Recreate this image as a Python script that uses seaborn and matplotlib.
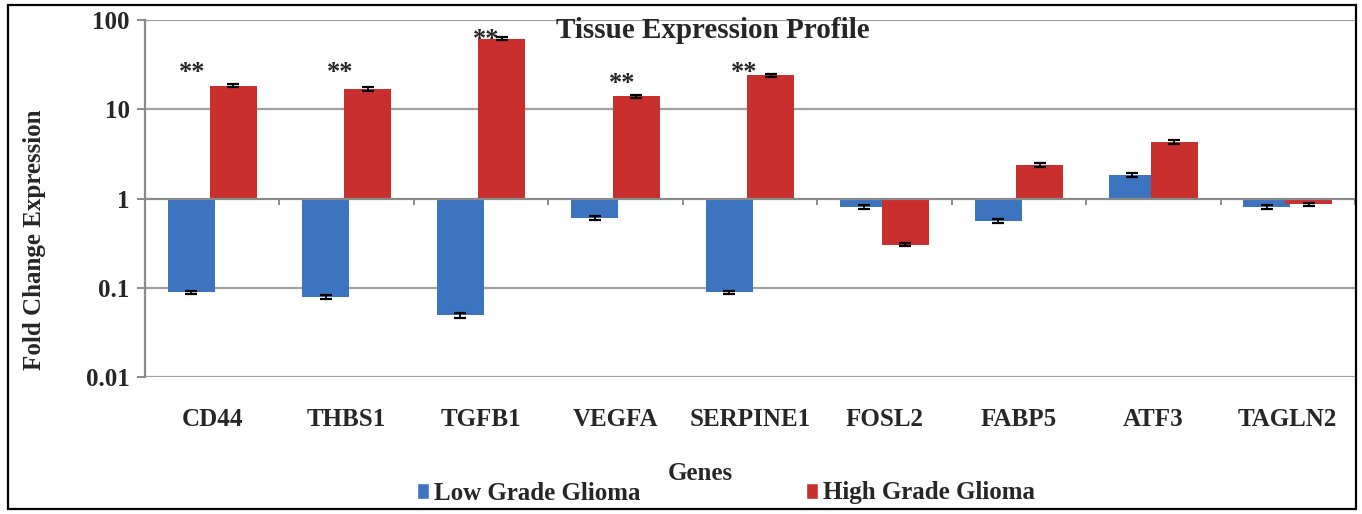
import numpy as np
import pandas as pd
import matplotlib
matplotlib.use("Agg")
import matplotlib.pyplot as plt
import seaborn as sns
from matplotlib.patches import Rectangle

genes = ["CD44", "THBS1", "TGFB1", "VEGFA", "SERPINE1", "FOSL2", "FABP5", "ATF3", "TAGLN2"]
groups = ["Low Grade Glioma", "High Grade Glioma"]
low_vals = [0.089, 0.078, 0.049, 0.61, 0.089, 0.81, 0.56, 1.82, 0.80]
high_vals = [18.4, 17.0, 62.0, 13.9, 24.0, 0.305, 2.38, 4.30, 0.86]
low_err = [0.004, 0.004, 0.003, 0.03, 0.004, 0.04, 0.03, 0.09, 0.04]
high_err = [0.8, 0.8, 2.5, 0.7, 1.0, 0.015, 0.1, 0.2, 0.04]
# significance marks: label, height (data units) and horizontal offset (category units)
stars = ["**", "**", "**", "**", "**", "", "", "", ""]
star_y = [25.7, 25.7, 60.0, 19.4, 25.7, 0, 0, 0, 0]
star_dx = [-0.15, -0.05, 0.04, 0.05, -0.04, 0, 0, 0, 0]
colors = {"Low Grade Glioma": "#3d74c0", "High Grade Glioma": "#c9302d"}

df = pd.DataFrame({
    "gene": genes * 2,
    "group": [groups[0]] * len(genes) + [groups[1]] * len(genes),
    "value": low_vals + high_vals,
})

sns.set_style("white")
plt.rcParams["font.family"] = ["Liberation Serif", "DejaVu Serif"]
plt.rcParams["font.weight"] = "bold"

fig = plt.figure(figsize=(13.62, 5.14), dpi=100)
ax = fig.add_axes([145 / 1362, 1 - 377 / 514, (1355 - 145) / 1362, (377 - 20) / 514])

sns.barplot(data=df, x="gene", y="value", hue="group", order=genes, hue_order=groups,
            palette=colors, errorbar=None, width=0.62, ax=ax, legend=False,
            saturation=1, zorder=3)
ax.set_yscale("log")
ax.set_ylim(0.01, 100)
ax.set_xlim(-0.5, len(genes) - 0.5)

# Excel-style bars anchored at 1 (axis crossing), slightly overlapping
bar_w = 0.35
errs = [low_err, high_err]
handles = []
bar_containers = list(ax.containers)
for k, cont in enumerate(bar_containers):
    xs = []
    vals = []
    for p in cont.patches:
        v = p.get_height()
        c = p.get_x() + p.get_width() / 2
        p.set_width(bar_w)
        p.set_x(c - bar_w / 2)
        p.set_y(1)
        p.set_height(v - 1)
        p.set_edgecolor("none")
        xs.append(c)
        vals.append(v)
    ax.errorbar(xs, vals, yerr=errs[k], fmt="none", ecolor="black",
                elinewidth=1.3, capsize=4, capthick=1.6, zorder=5)
    handles.append(Rectangle((0, 0), 1, 1, facecolor=colors[groups[k]]))

for i, s in enumerate(stars):
    if s:
        ax.text(i + star_dx[i], star_y[i], s, ha="center", va="center",
                fontsize=19, fontweight="bold", zorder=6)

# gridlines and axis at 1
ax.grid(False)
for yv in [0.01, 0.1, 10, 100]:
    ax.axhline(yv, color="#a0a0a0", lw=1.6, zorder=1)
ax.axhline(1, color="#8a8a8a", lw=1.6, zorder=4)
ax.vlines(np.arange(len(genes) + 1) - 0.5, 10 ** (-0.07), 1, color="#8a8a8a", lw=1.4, zorder=4)

for s in ["top", "right", "bottom"]:
    ax.spines[s].set_visible(False)
ax.spines["left"].set_color("#8a8a8a")
ax.spines["left"].set_linewidth(1.6)

ax.set_yticks([0.01, 0.1, 1, 10, 100])
ax.set_yticklabels(["0.01", "0.1", "1", "10", "100"])
ax.minorticks_off()
ax.tick_params(axis="y", which="major", left=True, length=6, width=1.4, color="#8a8a8a",
               labelsize=18, pad=5)
ax.tick_params(axis="x", bottom=False, labelsize=18, pad=19)
for lab in ax.get_xticklabels() + ax.get_yticklabels():
    lab.set_fontweight("bold")

ax.set_xlabel("")
ax.set_ylabel("")
fig.text(35 / 1362, 1 - 240 / 514, "Fold Change Expression", rotation=90, ha="center",
         va="center", fontsize=18, fontweight="bold")
fig.text(713 / 1362, 1 - 30 / 514, "Tissue Expression Profile", ha="center", va="center",
         fontsize=21, fontweight="bold")
fig.text(700 / 1362, 1 - 473 / 514, "Genes", ha="center", va="center",
         fontsize=18, fontweight="bold")

fig.legend(handles, groups, loc="center", bbox_to_anchor=(726 / 1362, 1 - 493 / 514),
           ncol=2, frameon=False, handlelength=0.5, handleheight=0.6,
           handletextpad=0.2, columnspacing=6.6, borderpad=0,
           prop={"weight": "bold", "size": 18})

fig.patches.append(Rectangle((8 / 1362, 5 / 514), 1 - 14 / 1362, 1 - 10 / 514,
                             transform=fig.transFigure, fill=False, edgecolor="black",
                             lw=1.6, zorder=10))

fig.savefig("out.png", dpi=100)
